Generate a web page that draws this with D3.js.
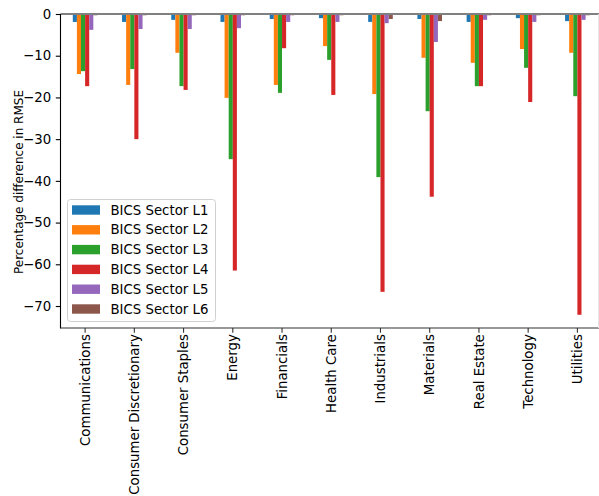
<!DOCTYPE html>
<html>
<head>
<meta charset="utf-8">
<script src="https://cdn.jsdelivr.net/npm/d3@7"></script>
<style>
  body { margin: 0; background: #fff; }
  svg { display: block; font-family: "DejaVu Sans", sans-serif; }
</style>
</head>
<body>
<svg id="chart" width="599" height="496"></svg>
<script>
const categories = ["Communications", "Consumer Discretionary", "Consumer Staples", "Energy", "Financials",
  "Health Care", "Industrials", "Materials", "Real Estate", "Technology", "Utilities"];
const seriesNames = ["BICS Sector L1", "BICS Sector L2", "BICS Sector L3", "BICS Sector L4", "BICS Sector L5", "BICS Sector L6"];
const L1 = [-1.9, -1.9, -1.4, -1.9, -1.2, -1.0, -1.9, -1.2, -1.9, -1.0, -1.7];
const L2 = [-14.4, -17.0, -9.3, -20.1, -17.0, -7.7, -19.2, -10.5, -11.7, -8.4, -9.3];
const L3 = [-13.7, -13.2, -17.3, -34.8, -18.9, -11.0, -39.1, -23.3, -17.3, -12.9, -19.7];
const L4 = [-17.3, -30.0, -18.2, -61.5, -8.2, -19.4, -66.6, -43.8, -17.3, -21.1, -72.1];
const L5 = [-3.8, -3.6, -3.6, -3.4, -1.9, -1.9, -2.2, -6.7, -1.4, -1.9, -1.4];
const L6 = [-0.3, -0.3, -0.3, -0.3, -0.3, -0.3, -1.2, -1.7, -0.3, -0.3, -0.3];
const seriesValues = [L1, L2, L3, L4, L5, L6];
const colors = ["#1f77b4", "#ff7f0e", "#2ca02c", "#d62728", "#9467bd", "#8c564b"];
const yTicks = [0, -10, -20, -30, -40, -50, -60, -70];
const yLabel = "Percentage difference in RMSE";

const svg = d3.select("#chart");
const pLeft = 60.5, pRight = 602, pTop = 14, pBottom = 328;

const x = d3.scaleBand().domain(categories).range([pLeft, pRight]).padding(0);
const bw = x.bandwidth();
const xs = d3.scaleBand().domain(seriesNames).range([-bw / 4, bw / 4]).padding(0);
const y = d3.scaleLinear().domain([-75.27, 0]).range([pBottom, pTop]);

// bars
seriesNames.forEach((s, j) => {
  svg.append("g").selectAll("rect")
    .data(categories.map((c, i) => ({ c, v: seriesValues[j][i] })))
    .join("rect")
    .attr("x", d => x(d.c) + bw / 2 + xs(s))
    .attr("width", xs.bandwidth())
    .attr("y", d => y(Math.max(0, d.v)))
    .attr("height", d => Math.abs(y(d.v) - y(0)))
    .attr("fill", colors[j]);
});

// zero line / top
svg.append("line").attr("x1", pLeft).attr("x2", 599).attr("y1", y(0)).attr("y2", y(0))
  .attr("stroke", "#808080").attr("stroke-width", 2);

// spines
svg.append("line").attr("x1", pLeft).attr("x2", pLeft).attr("y1", pTop).attr("y2", pBottom + 0.5)
  .attr("stroke", "#000").attr("stroke-width", 1.1);
svg.append("line").attr("x1", pLeft).attr("x2", 599).attr("y1", pBottom).attr("y2", pBottom)
  .attr("stroke", "#333").attr("stroke-width", 1.1);
svg.append("line").attr("x1", 598.5).attr("x2", 598.5).attr("y1", pTop).attr("y2", pBottom)
  .attr("stroke", "#e6e6e6").attr("stroke-width", 1);

// y axis
const yAxis = d3.axisLeft(y).tickValues(yTicks).tickSize(4.7).tickPadding(4.7)
  .tickFormat(d => d3.format("d")(d).replace("-", "\u2212"));
const gy = svg.append("g").attr("transform", `translate(${pLeft},0)`).call(yAxis);
gy.select(".domain").remove();
gy.selectAll("text").attr("font-size", 13.3).attr("fill", "#000").attr("font-family", "DejaVu Sans");
gy.selectAll("line").attr("stroke", "#000").attr("stroke-width", 1.1);

// x axis
const xAxis = d3.axisBottom(x).tickSize(4.7).tickPadding(4.7);
const gx = svg.append("g").attr("transform", `translate(0,${pBottom})`).call(xAxis);
gx.select(".domain").remove();
gx.selectAll("line").attr("stroke", "#333").attr("stroke-width", 1.1);
gx.selectAll("text")
  .attr("font-size", 13.3).attr("fill", "#000").attr("font-family", "DejaVu Sans")
  .attr("transform", "rotate(-90)")
  .attr("text-anchor", "end")
  .attr("x", -6.2).attr("y", 0).attr("dy", "0.35em");

// y label
svg.append("text")
  .attr("transform", `translate(23,182) rotate(-90)`)
  .attr("text-anchor", "middle")
  .attr("font-size", 12)
  .attr("fill", "#000")
  .text(yLabel);

// legend
const lg = svg.append("g");
lg.append("rect").attr("x", 67.5).attr("y", 199.5).attr("width", 148).attr("height", 122)
  .attr("rx", 3).attr("fill", "#fff").attr("fill-opacity", 0.8)
  .attr("stroke", "#d0d0d0").attr("stroke-width", 1);
seriesNames.forEach((s, j) => {
  const cy = 210 + j * 19.8;
  lg.append("rect").attr("x", 72).attr("y", cy - 4.7).attr("width", 28).attr("height", 9.4).attr("fill", colors[j]);
  lg.append("text").attr("x", 110.5).attr("y", cy).attr("dy", "0.35em")
    .attr("font-size", 13.3).attr("fill", "#000").text(s);
});
</script>
</body>
</html>
